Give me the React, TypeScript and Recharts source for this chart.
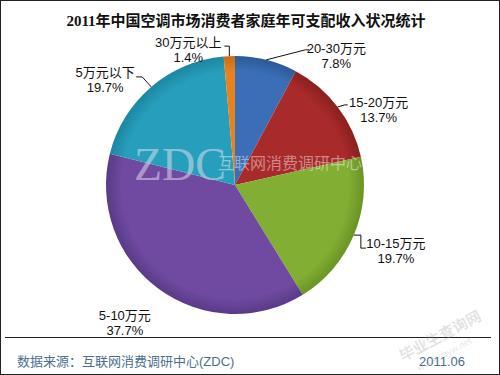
import React from "react";
import { PieChart, Pie, Cell } from "recharts";

const title = "2011年中国空调市场消费者家庭年可支配收入状况统计";
const categories = ["20-30万元", "15-20万元", "10-15万元", "5-10万元", "5万元以下", "30万元以上"];
const shares = [7.8, 13.7, 19.7, 37.7, 19.7, 1.4];
const sourceNote = "数据来源：互联网消费调研中心(ZDC)";
const dateNote = "2011.06";

const data = categories.map((name, i) => ({ name, value: shares[i] }));

const COLORS = ["#3a6fb8", "#a82a2a", "#82ae33", "#6f4aa0", "#279ebb", "#e8821e"];
const EDGES = ["#2c5a98", "#8a1f1f", "#6a9325", "#5a3a88", "#1d86a2", "#c96c12"];

// label offsets from the slice's outer edge point, plus leader bends
const LABEL_LAYOUT = [
  { tx: 70, ty: -11, lead: [[39, -10], [43, -10]] },
  { tx: 41, ty: -4, lead: [[7, -2], [10, -2]] },
  { tx: 42, ty: 8, lead: [[7, 0], [7, 13], [12, 13]] },
  { tx: -34, ty: 26, lead: [] },
  { tx: -46, ty: -14, lead: [[-9, -10], [-15, -10]] },
  { tx: -41, ty: -14, lead: [[0, -10], [-5, -10]] },
];

const CX = 235;
const CY = 185;
const R = 129;
const RADIAN = Math.PI / 180;
const FONT = "'Liberation Sans', Arial, 'Noto Sans CJK SC', sans-serif";

const renderLabel = (props: any) => {
  const { cx, cy, midAngle, outerRadius, index, value } = props;
  const ex = cx + outerRadius * Math.cos(-midAngle * RADIAN);
  const ey = cy + outerRadius * Math.sin(-midAngle * RADIAN);
  const lay = LABEL_LAYOUT[index];
  const pts = [[ex, ey], ...lay.lead.map(([dx, dy]) => [ex + dx, ey + dy])];
  const tx = ex + lay.tx;
  const ty = ey + lay.ty;
  return (
    <g>
      {pts.length > 1 && (
        <polyline
          points={pts.map((p) => p.join(",")).join(" ")}
          fill="none"
          stroke="#111"
          strokeWidth={1}
        />
      )}
      <text x={tx} y={ty} textAnchor="middle" fontSize={13} fontFamily={FONT} fill="#111">
        <tspan x={tx} dy="0.35em">{categories[index]}</tspan>
        <tspan x={tx} dy="15">{value.toFixed(1)}%</tspan>
      </text>
    </g>
  );
};

export default function App() {
  return (
    <div style={{ width: 500, height: 375, position: "relative", background: "#fff" }}>
      <style>{"body{margin:0}"}</style>
      <PieChart width={500} height={375} margin={{ top: 0, right: 0, bottom: 0, left: 0 }}>
        <defs>
          {COLORS.map((c, i) => (
            <radialGradient key={i} id={`sl${i}`} cx={CX} cy={CY} r={R} gradientUnits="userSpaceOnUse">
              <stop offset="0%" stopColor={c} />
              <stop offset="88%" stopColor={c} />
              <stop offset="100%" stopColor={EDGES[i]} />
            </radialGradient>
          ))}
        </defs>
        <rect x={0.5} y={0.5} width={499} height={374} fill="#fff" stroke="#222" />
        <text
          x={246}
          y={26}
          textAnchor="middle"
          fontSize={15}
          fontWeight="bold"
          fontFamily="'Liberation Serif', 'Noto Sans CJK SC', serif"
          fill="#111"
        >
          {title}
        </text>
        <Pie
          data={data}
          dataKey="value"
          nameKey="name"
          cx={CX}
          cy={CY}
          outerRadius={R}
          startAngle={90}
          endAngle={-270}
          stroke="none"
          label={renderLabel}
          labelLine={false}
          isAnimationActive={false}
        >
          {data.map((d, i) => (
            <Cell key={d.name} fill={`url(#sl${i})`} />
          ))}
        </Pie>
        <line x1={5} y1={337.5} x2={491} y2={337.5} stroke="#222" strokeWidth={1} />
        <text x={17} y={366} fontSize={13} fontFamily={FONT} fill="#4e6e8e">
          {sourceNote}
        </text>
        <text x={465} y={366} textAnchor="end" fontSize={13} fontFamily={FONT} fill="#4e6e8e">
          {dateNote}
        </text>
      </PieChart>
      <svg
        width={500}
        height={375}
        style={{ position: "absolute", left: 0, top: 0, pointerEvents: "none" }}
      >
        <text x={134} y={180} fontSize={46} fontFamily="'Liberation Serif', serif" fill="#e8e4f4" fillOpacity={0.5}>
          ZDC
        </text>
        <text x={218} y={169} fontSize={16} fontFamily="'Noto Sans CJK SC', sans-serif" fill="#fff" fillOpacity={0.45}>
          互联网消费调研中心
        </text>
        <g transform="rotate(-28 445 345)" fill="#999" fillOpacity={0.28} fontFamily="'Noto Sans CJK SC', sans-serif">
          <text x={445} y={340} textAnchor="middle" fontSize={15} fontWeight="bold">毕业生查询网</text>
          <text x={440} y={356} textAnchor="middle" fontSize={9}>www.sbyw.net</text>
        </g>
      </svg>
    </div>
  );
}
